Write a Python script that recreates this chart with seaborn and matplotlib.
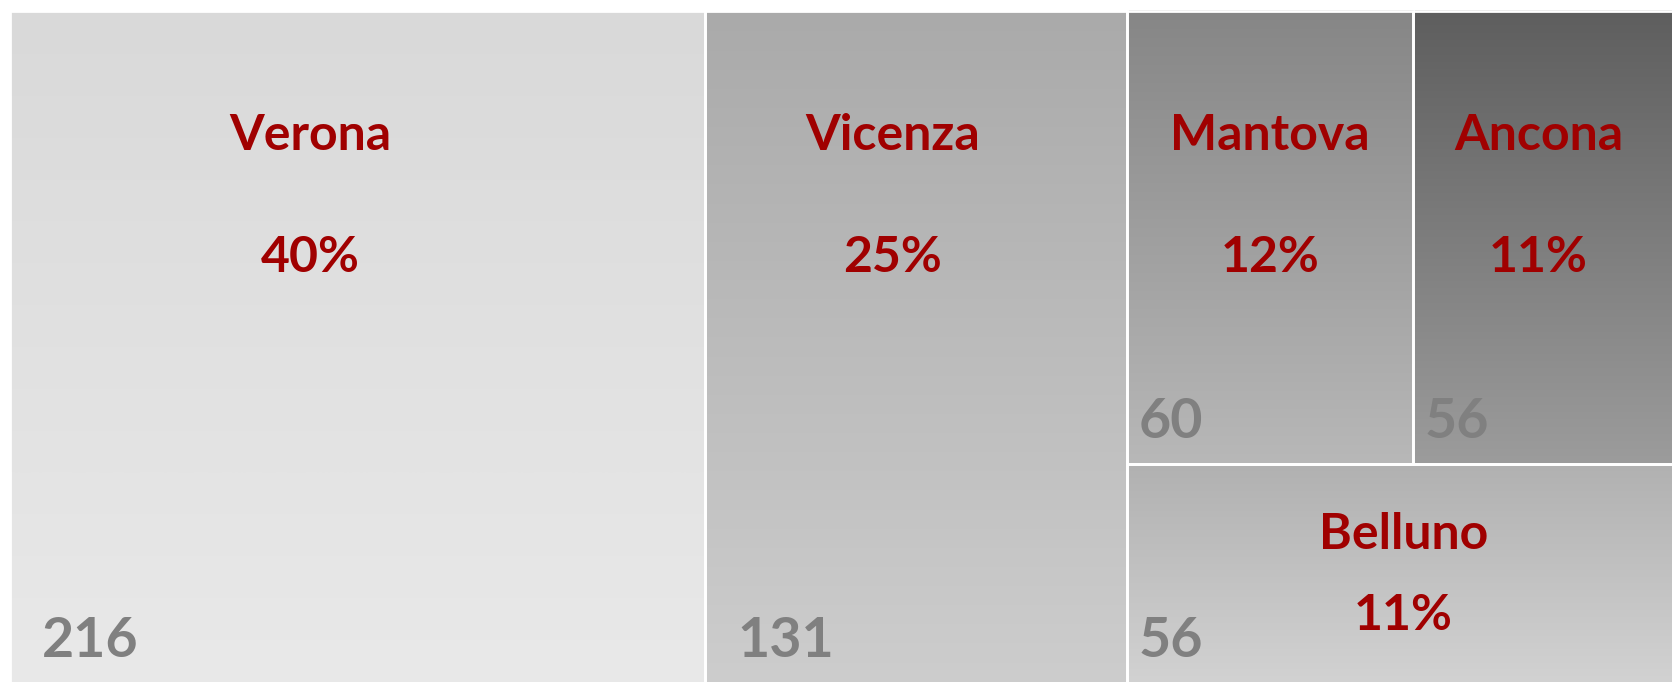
import numpy as np
import matplotlib
import matplotlib.pyplot as plt
import matplotlib.patches as mpatches
import seaborn as sns

matplotlib.use("Agg")

# ── data ────────────────────────────────────────────────────────────────
cities = ["Verona", "Vicenza", "Mantova", "Ancona", "Belluno"]
counts = [216, 131, 60, 56, 56]
shares = ["40%", "25%", "12%", "11%", "11%"]

# vertical gradient per tile (top colour, bottom colour)
top_colors = ["#d9d9d9", "#aaaaaa", "#868686", "#5e5e5e", "#b1b1b1"]
bottom_colors = ["#e9e9e9", "#cdcdcd", "#b8b8b8", "#9c9c9c", "#d2d2d2"]

W, H = 1672, 682


def _worst(row, side):
    s = sum(row)
    return max(max(side * side * r / (s * s), s * s / (side * side * r)) for r in row)


def squarify(values, x, y, w, h):
    """Plain squarified treemap layout, returns (x, y, w, h) per value."""
    total = sum(values)
    areas = [v * w * h / total for v in values]
    rects = []
    i = 0
    while i < len(areas):
        side = min(w, h)
        row = [areas[i]]
        j = i + 1
        while j < len(areas) and _worst(row + [areas[j]], side) <= _worst(row, side):
            row.append(areas[j])
            j += 1
        s = sum(row)
        if w >= h:  # column on the left
            cw = s / h
            cy = y
            for a in row:
                rects.append((x, cy, cw, a / cw))
                cy += a / cw
            x += cw
            w -= cw
        else:  # row along the top
            rh = s / w
            cx = x
            for a in row:
                rects.append((cx, y, a / rh, rh))
                cx += a / rh
            y += rh
            h -= rh
        i = j
    return rects


sns.set_theme(style="white")
plt.rcParams["font.family"] = ["Lato", "DejaVu Sans"]

fig = plt.figure(figsize=(W / 100, H / 100), dpi=100)
ax = fig.add_axes([0, 0, 1, 1])
ax.set_xlim(0, W)
ax.set_ylim(H, 0)
ax.axis("off")

# the treemap runs slightly past the right and bottom edges of the picture
rects = squarify(counts, 10, 11, 1670, 672)

# big tiles have their labels pulled a bit left of centre
label_nudge = {0: -47, 1: -23, 3: -8}

for k, ((x, y, w, h), name, cnt, pct, c0, c1) in enumerate(zip(
        rects, cities, counts, shares, top_colors, bottom_colors)):
    grad = np.array(sns.blend_palette([c0, c1], n_colors=256))[:, None, :]
    ax.imshow(grad, extent=(x, x + w, y + h, y), aspect="auto",
              interpolation="bilinear", zorder=1)
    ax.add_patch(mpatches.Rectangle((x, y), w, h, fill=False,
                                    edgecolor="white", linewidth=2, zorder=2))
    # labels
    cx = x + w / 2 + label_nudge.get(k, 0)
    name_dy = min(124, 0.32 * h)
    pct_dy = min(123, 0.37 * h)
    ax.text(cx, y + name_dy, name, ha="center", va="center",
            fontsize=36, fontweight="bold", color="#a00000", zorder=3)
    ax.text(cx, y + name_dy + pct_dy, pct, ha="center", va="center",
            fontsize=36, fontweight="bold", color="#a00000", zorder=3)
    pad = 32 if h > 600 else 12
    ax.text(x + pad, y + h - 42, str(cnt), ha="left", va="center",
            fontsize=40, fontweight="bold", color="#808080", zorder=3)

fig.savefig("out.png", dpi=100)
